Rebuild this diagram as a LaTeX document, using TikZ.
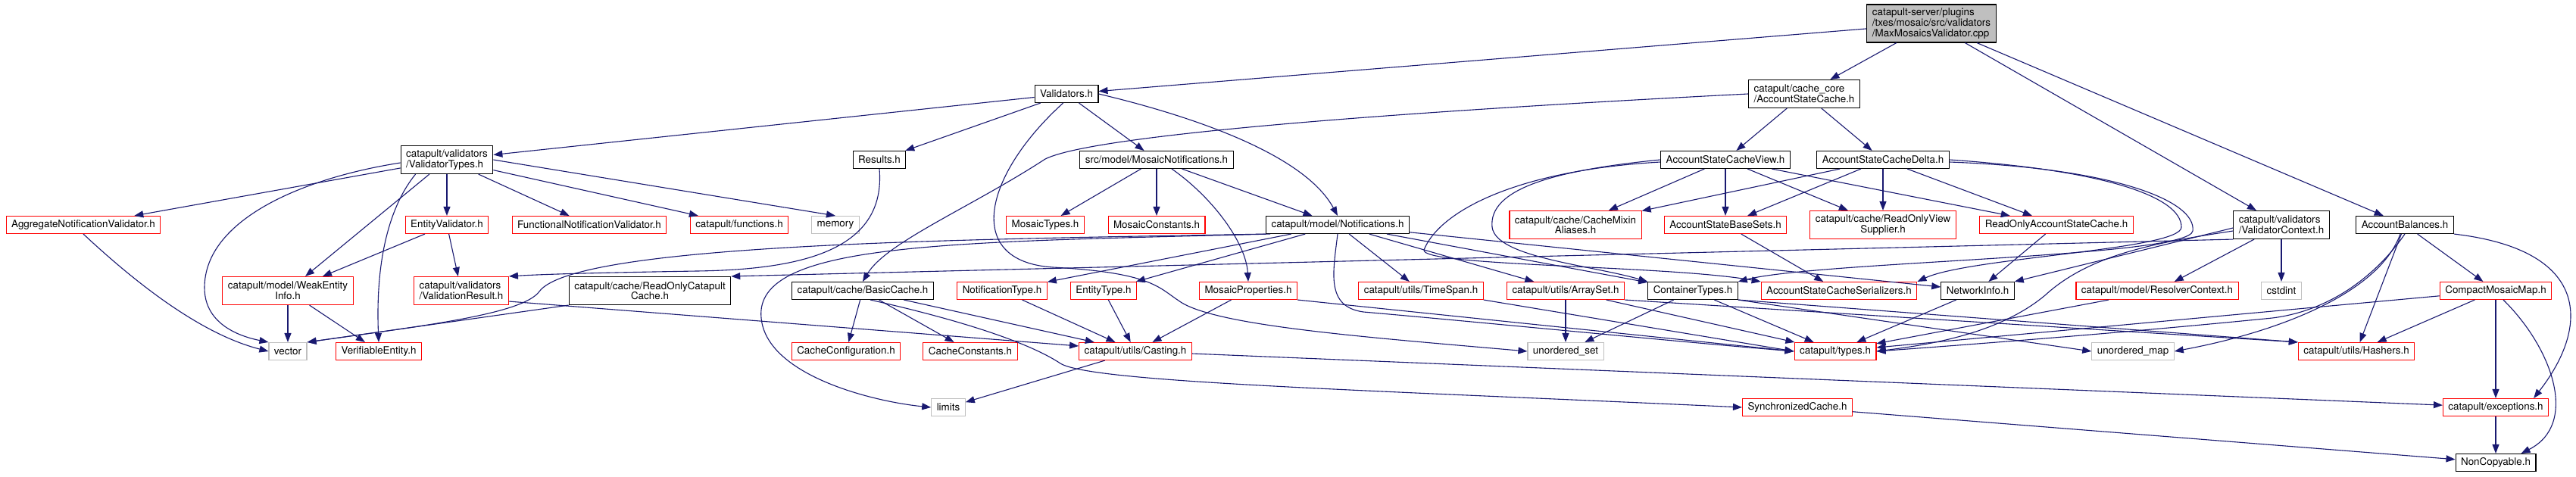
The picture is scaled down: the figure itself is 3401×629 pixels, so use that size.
\documentclass[tikz,border=0pt]{standalone}
\usepackage{fontspec}
\setmainfont{TeX Gyre Heros}
\usetikzlibrary{arrows.meta}
\definecolor{inclblue}{HTML}{191970}
\definecolor{sysgray}{HTML}{BFBFBF}

\begin{document}
\begin{tikzpicture}[
    x=1pt, y=-1pt,
    font=\fontsize{13.4}{13.6}\selectfont,
    hdr/.style={
        draw=black,
        fill=white,
        line width=1.1pt,
        inner xsep=7pt,
        inner ysep=0pt,
        minimum height=23pt
    },
    trunc/.style={hdr, draw=red},
    sys/.style={hdr, draw=sysgray},
    twoline/.style={minimum height=37pt, align=center},
    pathname/.style={minimum height=37pt, align=left},
    incl/.style={
        -{Triangle[length=12pt,width=9pt]},
        inclblue,
        line width=1.1pt
    }
]
\useasboundingbox (0,0) rectangle (3401,629);

% Row 1 - the source file
\node[hdr, fill=sysgray, align=left, minimum height=50pt] (root) at (2550,31)
    {catapult-server/plugins\\/txes/mosaic/src/validators\\/MaxMosaicsValidator.cpp};

% Row 2
\node[hdr] (validators) at (1408,124) {Validators.h};
\node[hdr, pathname] (ascache) at (2382,124) {catapult/cache\_core\\/AccountStateCache.h};

% Row 3
\node[hdr, pathname] (vtypes) at (590,211) {catapult/validators\\/ValidatorTypes.h};
\node[hdr] (results) at (1161,211) {Results.h};
\node[hdr] (mnotif) at (1527,211) {src/model/MosaicNotifications.h};
\node[hdr] (ascview) at (2278,211) {AccountStateCacheView.h};
\node[hdr] (ascdelta) at (2486,211) {AccountStateCacheDelta.h};

% Row 4
\node[trunc] (aggval) at (110,297) {AggregateNotificationValidator.h};
\node[trunc] (entval) at (590,297) {EntityValidator.h};
\node[trunc] (funcval) at (778,297) {FunctionalNotificationValidator.h};
\node[trunc] (functions) at (976,297) {catapult/functions.h};
\node[sys] (memory) at (1103,297) {memory};
\node[trunc] (mtypes) at (1380,297) {MosaicTypes.h};
\node[trunc] (mconst) at (1527,297) {MosaicConstants.h};
\node[hdr] (notif) at (1766,297) {catapult/model/Notifications.h};
\node[trunc, twoline] (mixin) at (2080,297) {catapult/cache/CacheMixin\\Aliases.h};
\node[trunc] (basesets) at (2278,297) {AccountStateBaseSets.h};
\node[trunc, twoline] (rovsupp) at (2486,297) {catapult/cache/ReadOnlyView\\Supplier.h};
\node[trunc] (roascache) at (2715,297) {ReadOnlyAccountStateCache.h};
\node[hdr, pathname] (vctx) at (3012,297) {catapult/validators\\/ValidatorContext.h};
\node[hdr] (balances) at (3175,297) {AccountBalances.h};

% Row 5
\node[trunc, twoline] (weakinfo) at (380,384) {catapult/model/WeakEntity\\Info.h};
\node[trunc, pathname] (vresult) at (609,384) {catapult/validators\\/ValidationResult.h};
\node[hdr, twoline] (rocache) at (858,384) {catapult/cache/ReadOnlyCatapult\\Cache.h};
\node[hdr] (basiccache) at (1139,384) {catapult/cache/BasicCache.h};
\node[trunc] (ntype) at (1323,384) {NotificationType.h};
\node[trunc] (etype) at (1457,384) {EntityType.h};
\node[trunc] (mprops) at (1648,384) {MosaicProperties.h};
\node[trunc] (timespan) at (1876,384) {catapult/utils/TimeSpan.h};
\node[trunc] (arrayset) at (2067,384) {catapult/utils/ArraySet.h};
\node[hdr] (ctypes) at (2235,384) {ContainerTypes.h};
\node[trunc] (serial) at (2428,384) {AccountStateCacheSerializers.h};
\node[hdr] (netinfo) at (2611,384) {NetworkInfo.h};
\node[trunc] (resolver) at (2848,384) {catapult/model/ResolverContext.h};
\node[sys] (cstdint) at (3012,384) {cstdint};
\node[trunc] (cmmap) at (3295,384) {CompactMosaicMap.h};

% Row 6
\node[sys] (vector) at (380,464) {vector};
\node[trunc] (verifiable) at (500,464) {VerifiableEntity.h};
\node[trunc] (cconfig) at (1117,464) {CacheConfiguration.h};
\node[trunc] (cconst) at (1281,464) {CacheConstants.h};
\node[trunc] (casting) at (1499,464) {catapult/utils/Casting.h};
\node[sys] (uset) at (2067,464) {unordered\_set};
\node[trunc] (types) at (2423,464) {catapult/types.h};
\node[sys] (umap) at (2816,464) {unordered\_map};
\node[trunc] (hashers) at (3111,464) {catapult/utils/Hashers.h};

% Row 7 and 8
\node[sys] (limits) at (1252,538) {limits};
\node[trunc] (synccache) at (2373,538) {SynchronizedCache.h};
\node[trunc] (exceptions) at (3295,538) {catapult/exceptions.h};
\node[hdr] (noncopy) at (3295,611) {NonCopyable.h};

% Straight includes
\foreach \a/\b in {root/validators, root/ascache, root/vctx, root/balances,
    validators/vtypes, validators/results, validators/mnotif,
    ascache/ascview, ascache/ascdelta,
    vtypes/aggval, vtypes/weakinfo, vtypes/entval, vtypes/funcval,
    vtypes/functions, vtypes.east/memory.north,
    entval/weakinfo, entval/vresult, weakinfo/vector, weakinfo/verifiable,
    mnotif/mtypes, mnotif/mconst, mnotif/notif,
    notif/ntype, notif/etype, notif/timespan, notif/arrayset, notif/ctypes, notif/netinfo,
    ascview/mixin, ascview/basesets, ascview/rovsupp, ascview/roascache,
    ascdelta/mixin, ascdelta/basesets, ascdelta/rovsupp, ascdelta/roascache,
    basesets/serial, roascache/netinfo,
    vctx/resolver, vctx/cstdint, vctx.south west/rocache.north east,
    balances/cmmap, balances/hashers,
    cmmap/hashers, cmmap/exceptions, cmmap/types,
    rocache.south west/vector.north east,
    basiccache/cconfig, basiccache/cconst, basiccache/casting,
    ntype/casting, etype/casting, mprops/casting, mprops.south east/types.west,
    timespan.south east/types.west, arrayset/uset, arrayset/types,
    arrayset.south east/hashers.north west,
    ctypes/uset, ctypes/types, ctypes.south east/umap.west,
    ctypes.south east/hashers.north west,
    netinfo/types, resolver/types,
    casting/limits, casting/exceptions,
    synccache/noncopy, exceptions/noncopy} {
    \draw[incl] (\a) -- (\b);
}

% Curved includes on the left
\draw[incl] ([yshift=-4pt]vtypes.west) .. controls (400,235) and (270,290) .. (270,380)
    .. controls (270,430) and (320,445) .. (vector.north west);
\draw[incl] ([xshift=20pt]vtypes.south west) .. controls (520,265) and (495,330) .. (verifiable.north);
\draw[incl] (aggval.south) .. controls (170,365) and (260,440) .. (vector.west);
\draw[incl] ([yshift=5pt]vresult.south east) -- ([yshift=7pt]casting.west);

% Validators.h
\draw[incl] (validators.east) .. controls (1560,150) and (1720,200) .. (notif.north);
\draw[incl] (validators.250) .. controls (1300,230) and (1270,345) .. (1390,353)
    .. controls (1520,360) and (1530,380) .. (1556,397)
    .. controls (1600,430) and (1800,445) .. (uset.west);
\draw[incl] (results.south) .. controls (1170,330) and (1060,356) .. (920,358)
    .. controls (800,360) and (720,362) .. (vresult.north east);

% Notifications.h
\draw[incl] (notif.south west) .. controls (1300,316) and (760,320) .. (712,385)
    .. controls (690,415) and (560,430) .. (vector.north east);
\draw[incl] ([xshift=6pt]notif.south west) .. controls (1250,320) and (995,320) .. (1005,420)
    .. controls (1012,495) and (1150,530) .. (limits.west);
\draw[incl] (notif.south) .. controls (1760,360) and (1750,405) .. (1800,412)
    .. controls (1950,425) and (2200,450) .. (types.west);
\draw[incl] ([xshift=20pt]mnotif.south) .. controls (1600,260) and (1645,320) .. (mprops.north);

% AccountStateCache and its view and delta
\draw[incl] (ascache.west) .. controls (1800,150) and (1440,180) .. (1380,210)
    .. controls (1280,275) and (1170,320) .. (basiccache.north);
\draw[incl] (ascview.west) .. controls (2050,225) and (1965,250) .. (1970,300)
    .. controls (1975,340) and (2100,350) .. (ctypes.north west);
\draw[incl] ([yshift=-3pt]ascview.west) .. controls (2000,225) and (1900,280) .. (1880,330)
    .. controls (1875,352) and (2200,350) .. (serial.north west);
\draw[incl] (ascdelta.east) .. controls (2780,225) and (2880,260) .. (2880,300)
    .. controls (2880,330) and (2600,340) .. (serial.north east);
\draw[incl] ([yshift=-3pt]ascdelta.east) .. controls (2790,222) and (2900,265) .. (2895,305)
    .. controls (2890,340) and (2400,345) .. (ctypes.north east);
\draw[incl] ([xshift=10pt]basiccache.south) .. controls (1300,430) and (1370,460) .. (1400,480)
    .. controls (1440,505) and (1800,515) .. (synccache.west);

% ValidatorContext.h
\draw[incl] ([yshift=-4pt]vctx.west) -- (netinfo.north east);
\draw[incl] ([yshift=-8pt]vctx.west) .. controls (2850,320) and (2760,335) .. (2700,390)
    .. controls (2640,440) and (2550,455) .. (types.east);

% AccountBalances.h and CompactMosaicMap.h
\draw[incl] (balances.south) .. controls (3140,360) and (3080,410) .. (3000,420)
    .. controls (2800,440) and (2600,455) .. (types.east);
\draw[incl] ([xshift=-6pt]balances.south) .. controls (3140,390) and (3000,440) .. (umap.east);
\draw[incl] (balances.south east) .. controls (3420,330) and (3420,430) .. ([xshift=-20pt]exceptions.north east);
\draw[incl] ([xshift=10pt]cmmap.south) .. controls (3370,460) and (3405,560) .. ([xshift=-20pt]noncopy.north east);
\end{tikzpicture}
\end{document}
